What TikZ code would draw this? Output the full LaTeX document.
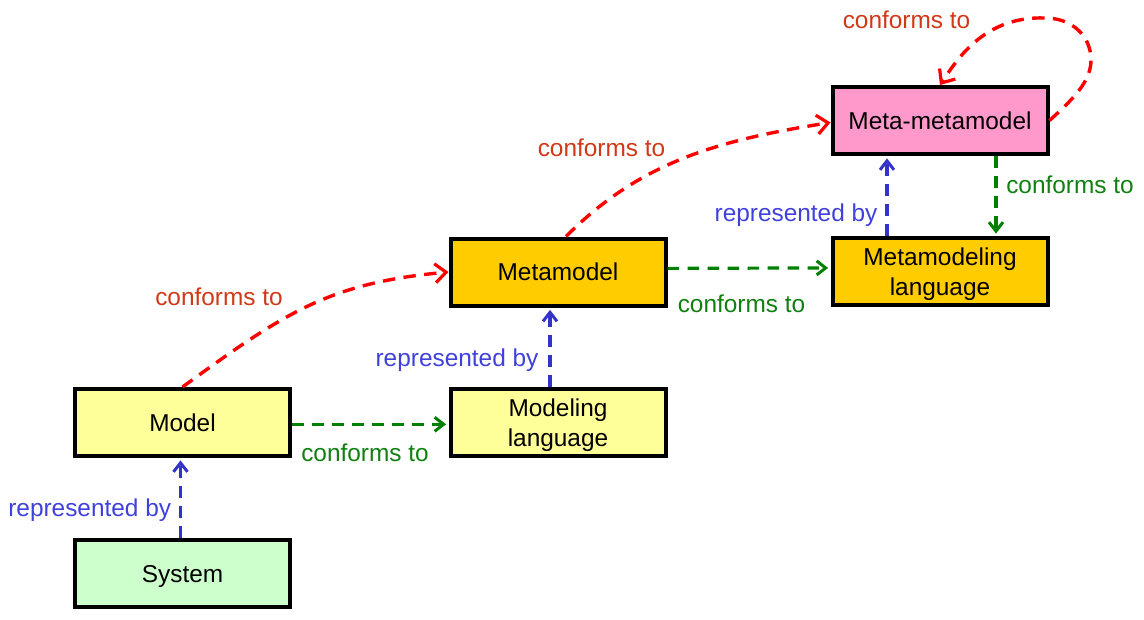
\documentclass[tikz,border=0pt]{standalone}
\usepackage{fontspec}
\setmainfont{Liberation Sans}
\usetikzlibrary{arrows.meta}
\definecolor{pinkfill}{RGB}{255,153,204}
\definecolor{goldfill}{RGB}{255,204,0}
\definecolor{yellowfill}{RGB}{255,255,153}
\definecolor{greenfill}{RGB}{204,255,204}
\definecolor{redline}{RGB}{255,0,0}
\definecolor{redtext}{RGB}{208,56,24}
\definecolor{greenline}{RGB}{0,128,0}
\definecolor{greentext}{RGB}{16,128,16}
\definecolor{blueline}{RGB}{51,51,204}
\definecolor{bluetext}{RGB}{64,64,221}
\begin{document}
\begin{tikzpicture}[x=0.5pt,y=-0.5pt,
  font=\fontsize{12.2}{15.3}\selectfont,
  box/.style={draw=black,line width=2pt,minimum width=107.5pt,minimum height=33.5pt,inner sep=0pt,align=center,text depth=0pt},
  lbl/.style={inner sep=0pt},
  conn/.style={line width=1.6pt,dash pattern=on 5.8pt off 4.2pt},
  rep/.style={conn,draw=blueline,-{Straight Barb[length=4.5pt,width=7pt,line width=1.5pt]},shorten >=1.2pt},
  conf/.style={conn,draw=greenline,-{Straight Barb[length=4.5pt,width=7pt,line width=1.5pt]},shorten >=1.2pt},
  cto/.style={line width=1.7pt,dash pattern=on 6.2pt off 4.2pt,draw=redline,-{Straight Barb[length=5.5pt,width=9.5pt,line width=1.6pt]}}
]
\useasboundingbox (0,0) rectangle (1144,620);

\node[box,fill=pinkfill]   (mmm)   at (940,120.5) {Meta-metamodel};
\node[box,fill=goldfill]   (mm)    at (558,272)   {Metamodel};
\node[box,fill=goldfill]   (mml)   at (940,271.5) {Metamodeling\\language};
\node[box,fill=yellowfill] (model) at (182.5,422.5) {Model};
\node[box,fill=yellowfill] (ml)    at (558,422.5) {Modeling\\language};
\node[box,fill=greenfill]  (sys)   at (182.5,573.5) {System};

\coordinate (loopR) at (1091,60);
\coordinate (loopT) at (1045,18);

% represented by
\draw[rep] ([xshift=-1pt]sys.north) -- ([xshift=-1pt]model.south);
\draw[rep] ([xshift=-4pt]ml.north) -- ([xshift=-4pt]mm.south);
\draw[rep] ([xshift=-26.5pt]mml.north) -- ([xshift=-26.5pt]mmm.south);

% conforms to (language)
\draw[conf] ([yshift=-0.9pt]model.east) -- ([yshift=-0.9pt]ml.west);
\draw[conf] ([yshift=1.8pt]mm.east) -- ([yshift=1.8pt]mml.west);
\draw[conf] ([xshift=28pt]mmm.south) -- ([xshift=28pt]mml.north);

% conforms to (meta levels)
\draw[cto] (model.north) .. controls (287,311) and (330,283) .. (mm.west);
\draw[cto] ([xshift=4pt]mm.north) .. controls (641,161) and (720,140) .. ([yshift=-1pt]mmm.west);
\draw[cto] (mmm.east) .. controls (1072,100) and (1091,82) .. (loopR)
  .. controls (1091,36) and (1072,18) .. (loopT)
  .. controls (985,16) and (958,58) .. (mmm.north);

% labels
\node[lbl,text=bluetext]  (l1) at (89.7,510)  {represented by};
\node[lbl,text=bluetext]  (l2) at (457,360)   {represented by};
\node[lbl,text=bluetext]  (l3) at (796,215)   {represented by};
\node[lbl,text=greentext] (l4) at (365,452.5) {conforms to};
\node[lbl,text=greentext] (l5) at (741.5,304) {conforms to};
\node[lbl,text=greentext] (l6) at (1070,185)  {conforms to};
\node[lbl,text=redtext]   (l7) at (219,296.5) {conforms to};
\node[lbl,text=redtext]   (l8) at (601.5,148) {conforms to};
\node[lbl,text=redtext]   (l9) at (906.5,20)  {conforms to};
\end{tikzpicture}
\end{document}
